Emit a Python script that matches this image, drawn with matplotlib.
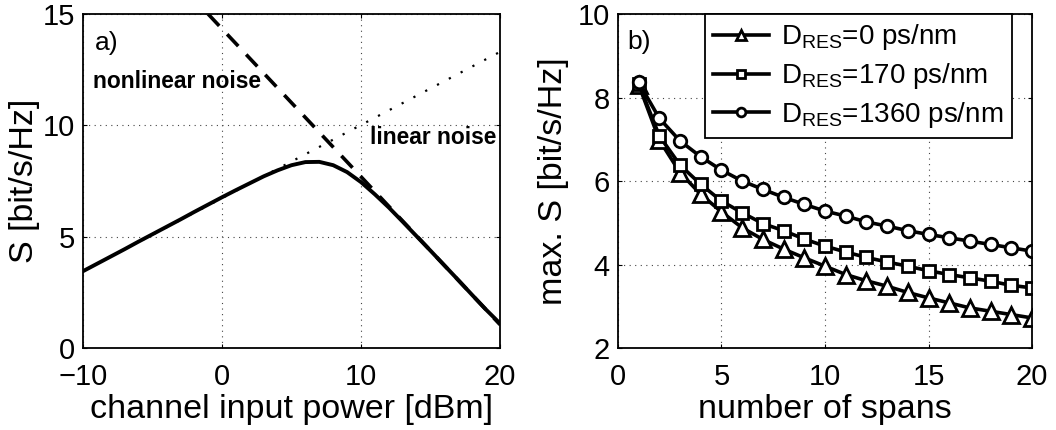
import matplotlib
matplotlib.use("Agg")
import matplotlib.pyplot as plt

plt.rcParams['font.family'] = ['Liberation Sans', 'DejaVu Sans']
plt.rcParams['mathtext.fontset'] = 'custom'
plt.rcParams['mathtext.rm'] = 'Liberation Sans'
plt.rcParams['mathtext.it'] = 'Liberation Sans'

# ---- panel a data ----
power_dbm = [-10, -9, -8, -7, -6, -5, -4, -3, -2, -1, 0, 1, 2, 3, 4, 5, 6, 7, 8, 9,
             10, 11, 12, 13, 14, 15, 16, 17, 18, 19, 20]
s_total = [3.45, 3.78, 4.11, 4.44, 4.78, 5.11, 5.44, 5.77, 6.11, 6.44, 6.77, 7.09, 7.40,
           7.71, 7.98, 8.21, 8.35, 8.36, 8.21, 7.90, 7.45, 6.90, 6.31, 5.67, 5.02, 4.37,
           3.71, 3.05, 2.38, 1.72, 1.10]
lin_power = [-10, 20]
s_linear = [3.45, 13.3]
nl_power = [-1, 20]
s_nonlinear = [15.0, 1.05]

# ---- panel b data ----
spans = list(range(1, 21))
s_d0 = [8.31, 6.98, 6.20, 5.68, 5.26, 4.88, 4.60, 4.37, 4.16, 3.96, 3.76, 3.61, 3.48,
        3.33, 3.20, 3.08, 2.96, 2.88, 2.80, 2.72]
s_d170 = [8.33, 7.08, 6.38, 5.92, 5.52, 5.24, 4.98, 4.81, 4.61, 4.44, 4.30, 4.17, 4.06,
          3.96, 3.85, 3.76, 3.68, 3.60, 3.50, 3.44]
s_d1360 = [8.36, 7.50, 6.96, 6.58, 6.26, 6.00, 5.80, 5.61, 5.44, 5.28, 5.16, 5.02, 4.92,
           4.81, 4.72, 4.64, 4.56, 4.48, 4.40, 4.32]
legend_labels = [r'D$_{\mathrm{RES}}$=0 ps/nm', r'D$_{\mathrm{RES}}$=170 ps/nm',
                 r'D$_{\mathrm{RES}}$=1360 ps/nm']

fig = plt.figure(figsize=(10.56, 4.30), dpi=100)
axa = fig.add_axes([0.0786, 0.1907, 0.3949, 0.7767])
axb = fig.add_axes([0.5852, 0.1907, 0.3921, 0.7767])

TICK_FS = 21
LABEL_FS = 24.5

def style(ax):
    ax.grid(True, linestyle=(0, (1, 4)), color='#444444', linewidth=0.8)
    ax.tick_params(direction='in', top=True, right=True, labelsize=TICK_FS,
                   length=3, width=0.8, pad=11)
    for sp in ax.spines.values():
        sp.set_linewidth(1.3)

# panel a
axa.plot(lin_power, s_linear, color='black', linestyle=(0, (1, 5)), linewidth=1.6)
axa.plot(nl_power, s_nonlinear, color='black', linestyle=(0, (4.5, 3.2)), linewidth=2.6)
axa.plot(power_dbm, s_total, color='black', linewidth=2.8, solid_joinstyle='round')
axa.set_xlim(-10, 20)
axa.set_ylim(0, 15)
axa.set_xticks([-10, 0, 10, 20])
axa.set_xticklabels(['\u221210', '0', '10', '20'])
axa.set_yticks([0, 5, 10, 15])
axa.set_xlabel('channel input power [dBm]', fontsize=LABEL_FS, labelpad=2)
axa.set_ylabel('S [bit/s/Hz]', fontsize=LABEL_FS, labelpad=2)
style(axa)
axa.tick_params(axis='y', pad=6)
axa.text(-9.15, 13.7, 'a)', fontsize=19, va='center', ha='left')
axa.text(-9.3, 11.95, 'nonlinear noise', fontsize=16.4, fontweight='bold', va='center', ha='left')
axa.text(10.65, 9.47, 'linear noise', fontsize=16.4, fontweight='bold', va='center', ha='left')

# panel b
mk = dict(color='black', linewidth=2.6, markeredgewidth=2.0,
          markerfacecolor='white', markeredgecolor='black')
axb.plot(spans, s_d0, marker='^', markersize=11, label=legend_labels[0], **mk)
axb.plot(spans, s_d170, marker='s', markersize=8, label=legend_labels[1], **mk)
axb.plot(spans, s_d1360, marker='o', markersize=9, label=legend_labels[2], **mk)
axb.set_xlim(0, 20)
axb.set_ylim(2, 10)
axb.set_xticks([0, 5, 10, 15, 20])
axb.set_yticks([2, 4, 6, 8, 10])
axb.set_xlabel('number of spans', fontsize=LABEL_FS, labelpad=2)
axb.set_ylabel('max. S [bit/s/Hz]', fontsize=LABEL_FS, labelpad=6)
style(axb)
axb.tick_params(axis='y', pad=6)
axb.text(0.45, 9.33, 'b)', fontsize=19, va='center', ha='left')
leg = axb.legend(loc='upper right', bbox_to_anchor=(0.952, 1.0), fontsize=20,
                 frameon=True, fancybox=False, framealpha=1, edgecolor='black',
                 handlelength=2.0, handletextpad=0.45, borderpad=0.3, labelspacing=0.32,
                 borderaxespad=0, markerscale=0.7)
leg.get_frame().set_linewidth(1.3)

fig.savefig('out.png', dpi=100)
